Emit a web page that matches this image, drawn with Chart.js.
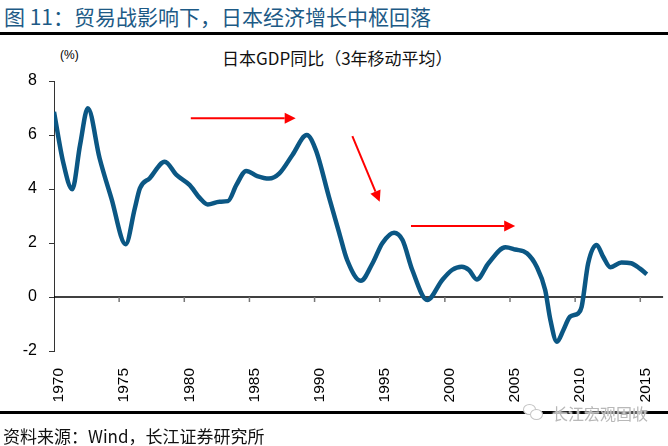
<!DOCTYPE html>
<html>
<head>
<meta charset="utf-8">
<script src="https://cdn.jsdelivr.net/npm/chart.js@4"></script>
<style>
  body { margin: 0; background: #fff; }
  #wrap { position: relative; width: 668px; height: 446px; overflow: hidden; font-family: 'Noto Sans CJK SC', 'Liberation Sans', sans-serif; }
  .abs { position: absolute; white-space: nowrap; }
  canvas { position: absolute; left: 0; top: 0; }
  .ring { position: absolute; border: 1.5px solid #c4c4c4; border-radius: 50%; background: #fff; }
</style>
</head>
<body>
<div id="wrap">
  <div class="abs" style="left:4px;top:1px;font-size:21px;color:#1d5a86;">图 11：贸易战影响下，日本经济增长中枢回落</div>
  <div class="abs" style="left:0;top:32px;width:668px;height:3px;background:#000;"></div>
  <div class="abs" style="left:60px;top:48px;font:12px 'Liberation Sans', Arial;">(%)</div>
  <div class="abs" style="left:222px;top:45px;font-size:17px;color:#111;">日本GDP同比（3年移动平均）</div>
  <canvas id="gdpChart" width="668" height="446"></canvas>
  <div class="abs" style="left:0;top:411px;width:668px;height:3px;background:#000;"></div>
  <div class="abs" style="left:3px;top:423px;font-size:17px;color:#111;">资料来源：Wind，长江证券研究所</div>
  <div class="ring" style="left:523px;top:404px;width:11px;height:9px;"></div>
  <div class="ring" style="left:530px;top:409px;width:11px;height:9px;"></div>
  <div class="abs" style="left:552px;top:401px;font-size:16px;color:#b8b8b8;text-shadow:0 0 2px #fff,0 0 2px #fff;">长江宏观固收</div>
</div>
<script>
// Japan GDP yoy, 3-year moving average
const years = [1970.0, 1970.7, 1971.4, 1972.0, 1972.6, 1973.5, 1974.4, 1975.5, 1976.2, 1976.6,
  1977.35, 1978.5, 1979.4, 1980.4, 1981.2, 1981.8, 1982.7, 1983.35, 1984.0, 1984.75,
  1985.6, 1986.5, 1987.3, 1988.3, 1989.4, 1990.1, 1991.1, 1991.9, 1992.5, 1993.55,
  1994.45, 1995.2, 1996.1, 1996.75, 1997.5, 1998.65, 1999.8, 2000.55, 2001.3, 2001.85,
  2002.45, 2003.35, 2004.65, 2005.4, 2006.3, 2007.05, 2007.7, 2008.1, 2008.6, 2009.1,
  2009.6, 2010.25, 2010.5, 2011.0, 2011.65, 2012.15, 2012.7, 2013.55, 2014.3, 2014.95, 2015.5];
const gdpYoy = [6.86, 5.0, 3.99, 5.63, 6.99, 5.14, 3.66, 1.95, 3.28, 4.03,
  4.4, 5.01, 4.52, 4.15, 3.66, 3.43, 3.53, 3.55, 4.15, 4.67,
  4.48, 4.39, 4.58, 5.26, 6.0, 5.44, 3.71, 2.36, 1.37, 0.6,
  1.25, 1.99, 2.38, 2.11, 1.0, -0.11, 0.63, 1.0, 1.12, 1.0,
  0.65, 1.25, 1.84, 1.76, 1.62, 1.12, 0.26, -0.85, -1.66, -1.22,
  -0.73, -0.6, -0.36, 1.25, 1.93, 1.49, 1.1, 1.28, 1.25, 1.06, 0.84];
const xTicks = [1970, 1975, 1980, 1985, 1990, 1995, 2000, 2005, 2010, 2015];
const yTicks = [-2, 0, 2, 4, 6, 8];

// red arrows, in data units: [x0, y0, x1, y1]
const arrows = [
  [1980.5, 6.62, 1988.55, 6.62],
  [1992.9, 5.96, 1995.0, 3.53],
  [1997.4, 2.63, 2005.4, 2.63]
];

// zero line with tick marks + annotation arrows
const overlayPlugin = {
  id: 'overlay',
  beforeDatasetsDraw(chart) {
    const { ctx, chartArea, scales } = chart;
    const y0 = scales.y.getPixelForValue(0);
    ctx.save();
    ctx.strokeStyle = '#000';
    ctx.lineWidth = 1.5;
    ctx.beginPath();
    ctx.moveTo(chartArea.left, y0);
    ctx.lineTo(chartArea.right, y0);
    ctx.stroke();
    ctx.strokeStyle = '#777';
    ctx.lineWidth = 1.5;
    xTicks.slice(1).forEach(v => {
      const x = scales.x.getPixelForValue(v);
      ctx.beginPath();
      ctx.moveTo(x, y0);
      ctx.lineTo(x, y0 + 5);
      ctx.stroke();
    });
    ctx.restore();
  },
  afterDatasetsDraw(chart) {
    const { ctx, scales } = chart;
    ctx.save();
    ctx.strokeStyle = '#f00';
    ctx.fillStyle = '#f00';
    ctx.lineWidth = 2;
    arrows.forEach(a => {
      const x0 = scales.x.getPixelForValue(a[0]);
      const y0 = scales.y.getPixelForValue(a[1]);
      const x1 = scales.x.getPixelForValue(a[2]);
      const y1 = scales.y.getPixelForValue(a[3]);
      const ang = Math.atan2(y1 - y0, x1 - x0);
      const head = 11, half = 5.5;
      const bx = x1 - head * Math.cos(ang), by = y1 - head * Math.sin(ang);
      ctx.beginPath();
      ctx.moveTo(x0, y0);
      ctx.lineTo(bx, by);
      ctx.stroke();
      ctx.beginPath();
      ctx.moveTo(x1, y1);
      ctx.lineTo(bx + half * Math.sin(ang), by - half * Math.cos(ang));
      ctx.lineTo(bx - half * Math.sin(ang), by + half * Math.cos(ang));
      ctx.closePath();
      ctx.fill();
    });
    ctx.restore();
  }
};

new Chart(document.getElementById('gdpChart'), {
  type: 'line',
  data: {
    datasets: [{
      label: '日本GDP同比（3年移动平均）',
      data: years.map((yr, i) => ({ x: yr, y: gdpYoy[i] })),
      borderColor: '#0b5784',
      borderWidth: 4.5,
      pointRadius: 0,
      cubicInterpolationMode: 'monotone',
      fill: false
    }]
  },
  options: {
    responsive: false,
    animation: false,
    layout: { padding: { top: 81, left: 0, right: 3, bottom: 0 } },
    plugins: {
      legend: { display: false },
      tooltip: { enabled: false }
    },
    scales: {
      x: {
        type: 'linear',
        min: 1970,
        max: 2016.75,
        grid: { display: false },
        border: { display: false },
        afterBuildTicks: scale => { scale.ticks = xTicks.map(v => ({ value: v })); },
        afterFit: scale => { scale.height = 95; },
        ticks: {
          autoSkip: false,
          minRotation: 90,
          maxRotation: 90,
          padding: 9,
          labelOffset: 5,
          color: '#000',
          font: { family: 'Liberation Sans', size: 15.5 },
          callback: v => String(v)
        }
      },
      y: {
        min: -2,
        max: 8,
        afterBuildTicks: scale => { scale.ticks = yTicks.map(v => ({ value: v })); },
        afterFit: scale => { scale.width = 54; },
        grid: { drawOnChartArea: false, drawTicks: true, tickLength: 5, color: '#333' },
        border: { display: true, color: '#333', width: 1 },
        ticks: {
          padding: 12,
          color: '#000',
          font: { family: 'Liberation Sans', size: 16 }
        }
      }
    }
  },
  plugins: [overlayPlugin]
});
</script>
</body>
</html>
